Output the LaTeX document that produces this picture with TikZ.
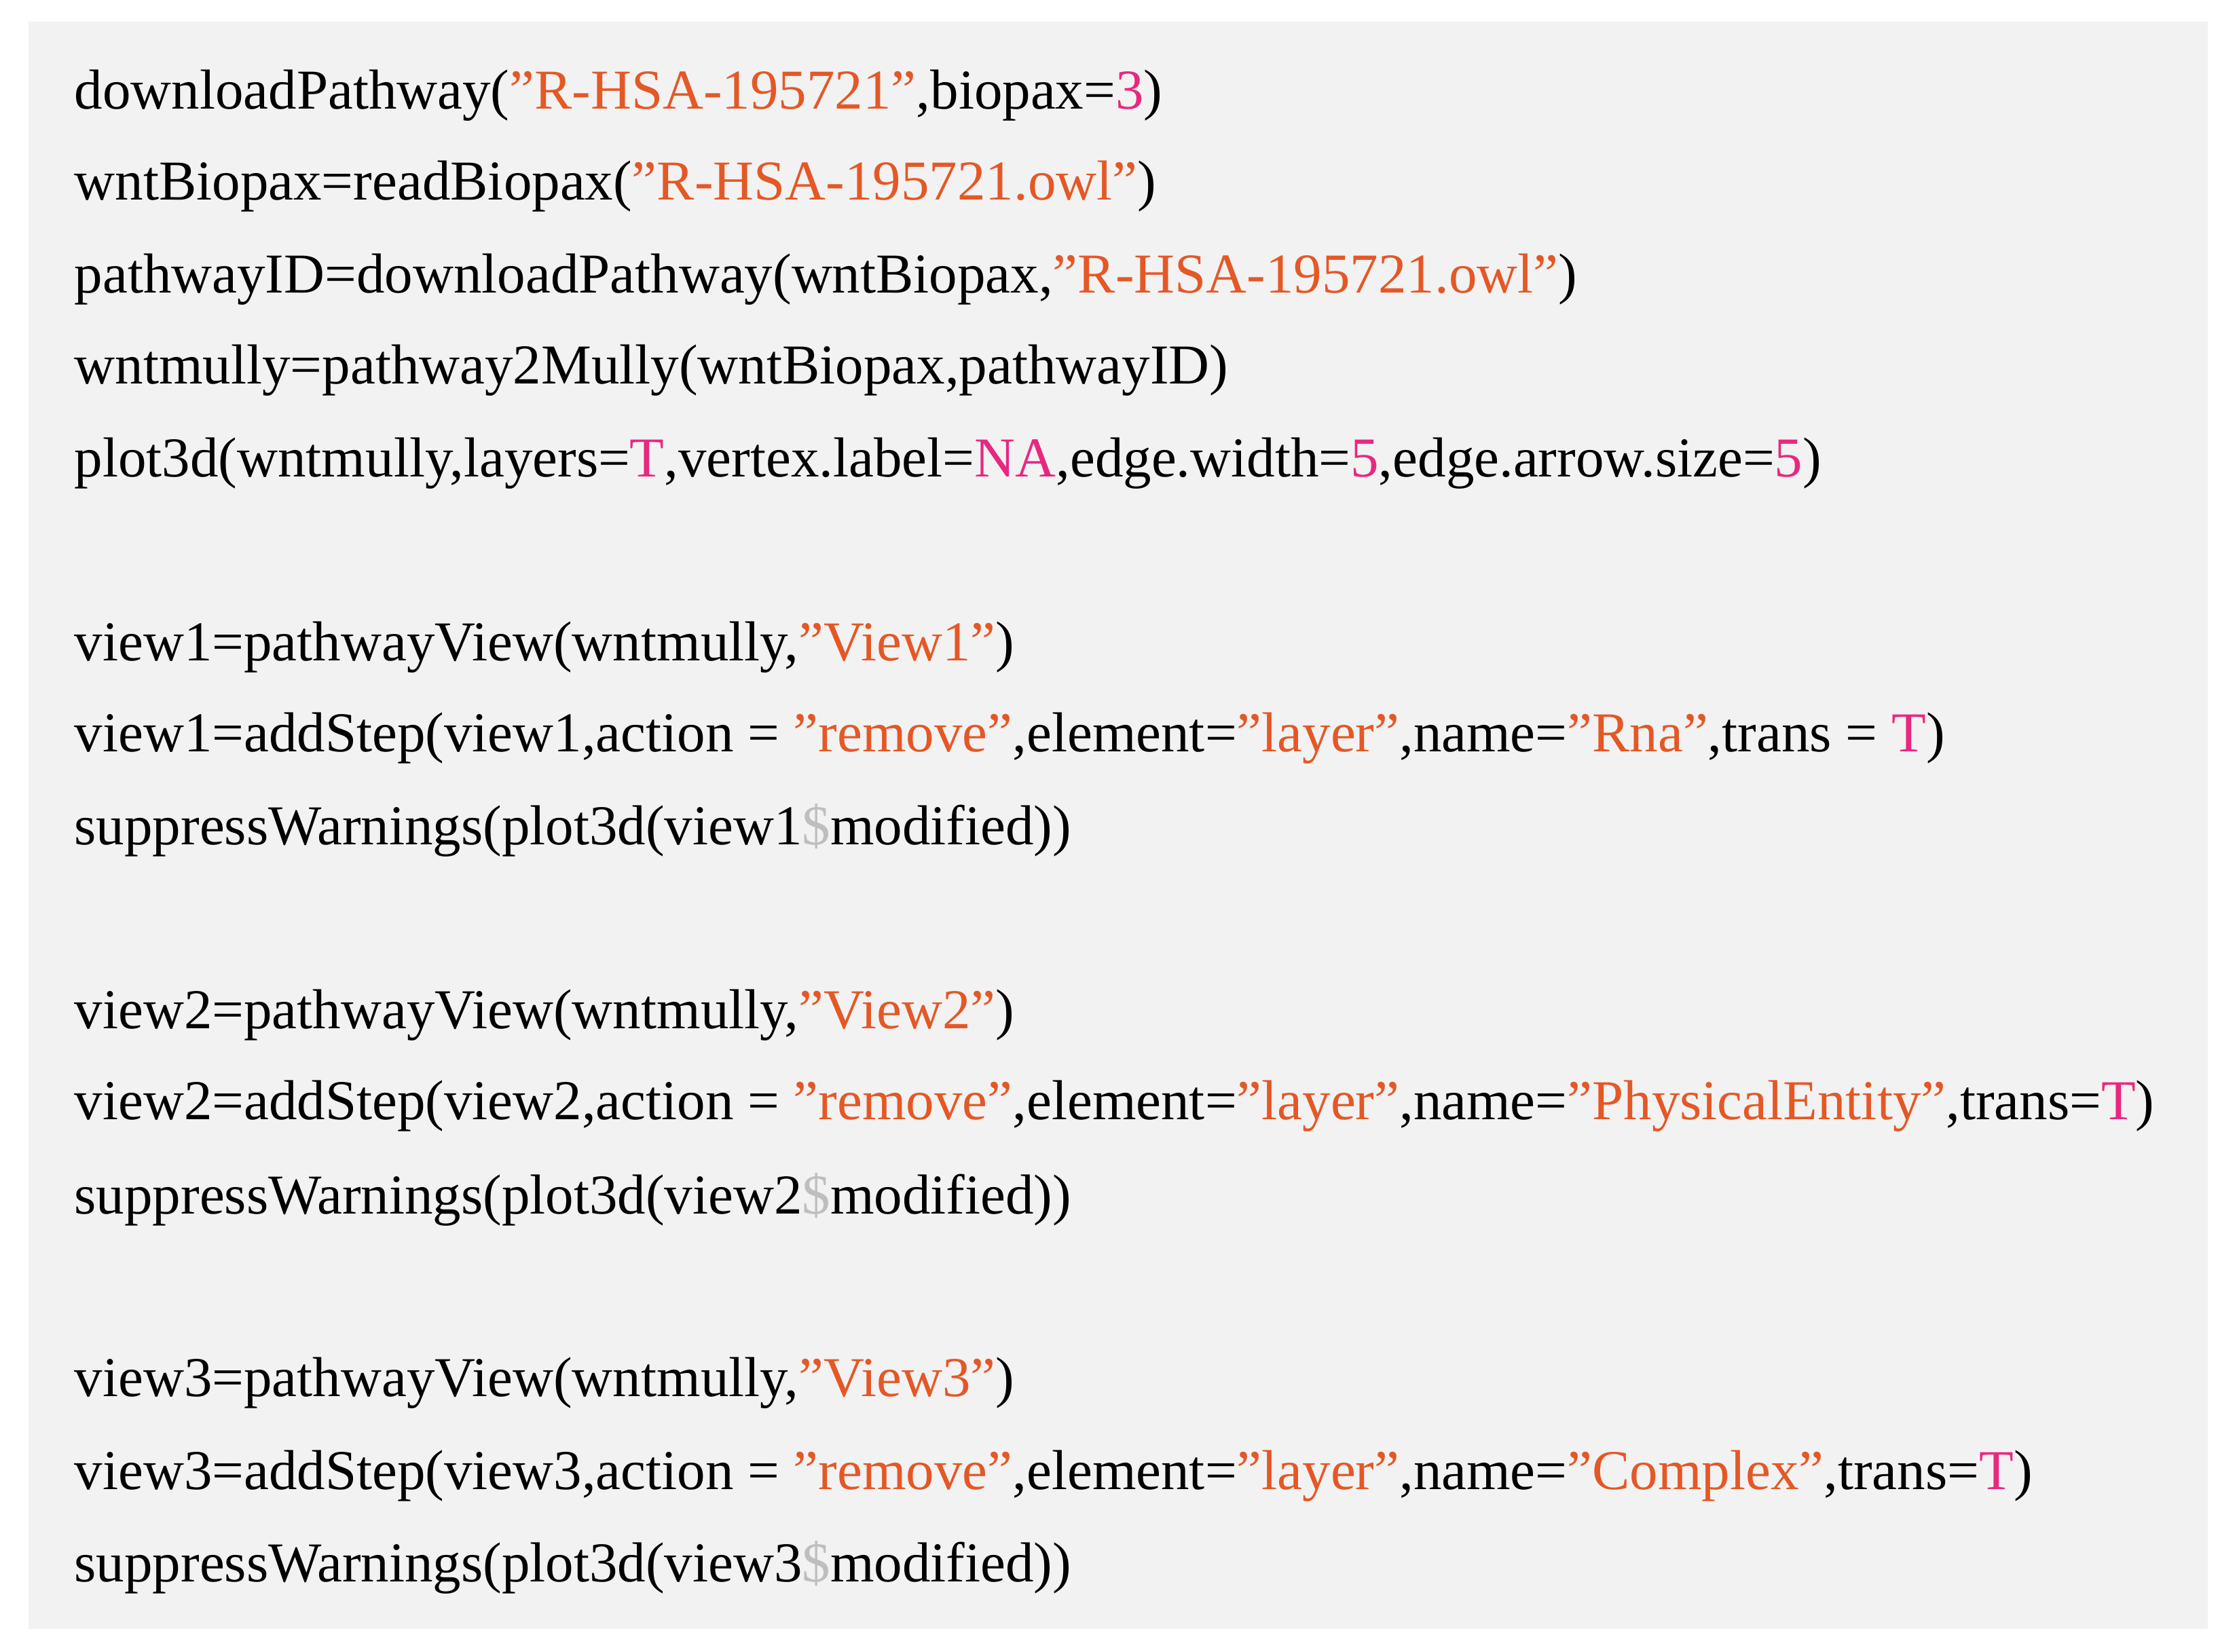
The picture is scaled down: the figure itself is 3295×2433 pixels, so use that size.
\documentclass[tikz,border=0pt]{standalone}
\usepackage{fontspec}
\setmainfont{Liberation Serif}
\definecolor{bg}{HTML}{F2F2F2}
\definecolor{str}{RGB}{228,88,38}
\definecolor{num}{RGB}{232,40,128}
\definecolor{dol}{RGB}{190,190,190}
\newcommand{\sq}[1]{\textcolor{str}{\symbol{34}#1\symbol{34}}}
\newcommand{\nm}[1]{\textcolor{num}{#1}}
\newcommand{\dl}{\textcolor{dol}{\$}}
\begin{document}
\begin{tikzpicture}[x=0.01cm,y=-0.01cm,
  code/.style={anchor=west,inner sep=0pt,font=\fontsize{23.6}{24}\selectfont}]
\useasboundingbox (0,0) rectangle (3295,2433);
\fill[bg] (42,32) rectangle (3252,2400);
\node[code] (l1) at (109,141) {downloadPathway(\sq{R-HSA-195721},biopax=\nm{3})};
\node[code] (l2) at (109,275) {wntBiopax=readBiopax(\sq{R-HSA-195721.owl})};
\node[code] (l3) at (109,412) {pathwayID=downloadPathway(wntBiopax,\sq{R-HSA-195721.owl})};
\node[code] (l4) at (109,546) {wntmully=pathway2Mully(wntBiopax,pathwayID)};
\node[code] (l5) at (109,683) {plot3d(wntmully,layers=\nm{T},vertex.label=\nm{NA},edge.width=\nm{5},edge.arrow.size=\nm{5})};
\node[code] (l6) at (109,954) {view1=pathwayView(wntmully,\sq{View1})};
\node[code] (l7) at (109,1088) {view1=addStep(view1,action = \sq{remove},element=\sq{layer},name=\sq{Rna},trans = \nm{T})};
\node[code] (l8) at (109,1223) {suppressWarnings(plot3d(view1\dl modified))};
\node[code] (l9) at (109,1496) {view2=pathwayView(wntmully,\sq{View2})};
\node[code] (l10) at (109,1630) {view2=addStep(view2,action = \sq{remove},element=\sq{layer},name=\sq{PhysicalEntity},trans=\nm{T})};
\node[code] (l11) at (109,1767) {suppressWarnings(plot3d(view2\dl modified))};
\node[code] (l12) at (109,2038) {view3=pathwayView(wntmully,\sq{View3})};
\node[code] (l13) at (109,2175) {view3=addStep(view3,action = \sq{remove},element=\sq{layer},name=\sq{Complex},trans=\nm{T})};
\node[code] (l14) at (109,2309) {suppressWarnings(plot3d(view3\dl modified))};
\end{tikzpicture}
\end{document}
